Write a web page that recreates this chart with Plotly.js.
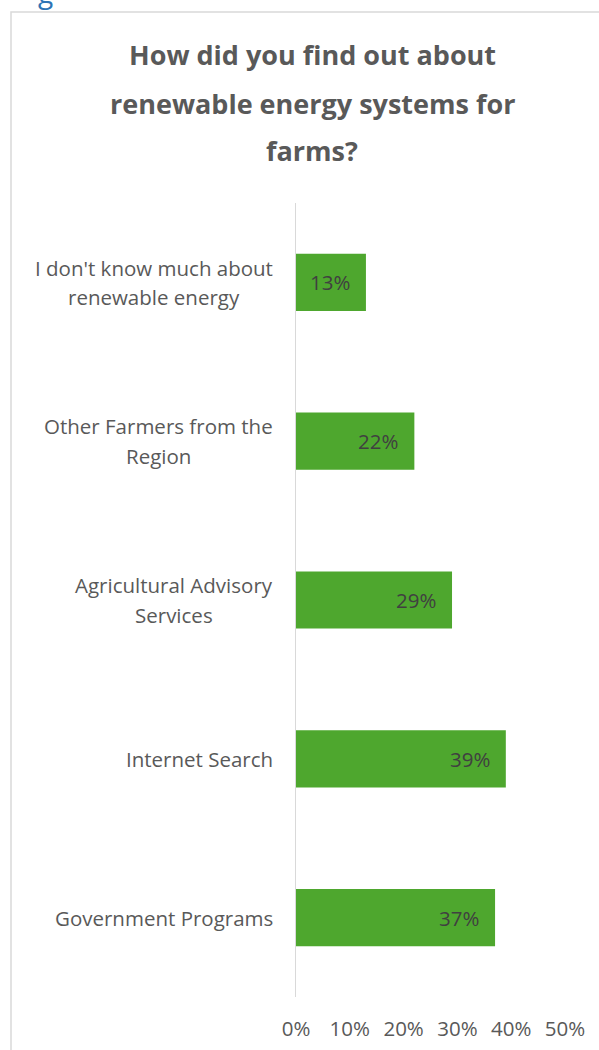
<!DOCTYPE html>
<html>
<head>
<meta charset="utf-8">
<script src="https://cdn.plot.ly/plotly-3.0.1.min.js"></script>
<style>html,body{margin:0;padding:0;background:#fff;}#chart{width:599px;height:1050px;}</style>
</head>
<body>
<div id="chart"></div>
<script>
// Data (top to bottom as shown)
const categories = ["I don't know much about renewable energy", "Other Farmers from the Region", "Agricultural Advisory Services", "Internet Search", "Government Programs"];
const labelLines = [["I don't know much about", "renewable energy"], ["Other Farmers from the", "Region"], ["Agricultural Advisory", "Services"], ["Internet Search"], ["Government Programs"]];
const values = [0.13, 0.22, 0.29, 0.39, 0.37];
const valueLabels = ["13%", "22%", "29%", "39%", "37%"];
const tickVals = [0, 0.1, 0.2, 0.3, 0.4, 0.5];
const tickText = ["0%", "10%", "20%", "30%", "40%", "50%"];
const titleLines = ["How did you find out about", "renewable energy systems for", "farms?"];

const FONT = "Open Sans, Noto Sans, sans-serif";
const W = 599, H = 1050;
const M = {l: 296, r: 34, t: 203, b: 53};
const pw = W - M.l - M.r, ph = H - M.t - M.b;
const px2x = p => (p - M.l) / pw;
const px2y = p => (H - M.b - p) / ph;

const LABEL_SIZE = 20.5;
const canvas = document.createElement('canvas');
const ctx = canvas.getContext('2d');
ctx.font = LABEL_SIZE + "px 'Open Sans'";

const annotations = [];
// title lines
const titleY = [55, 103, 150];
titleLines.forEach((t, i) => {
  annotations.push({text: '<b>' + t + '</b>', xref: 'paper', yref: 'paper', x: px2x(312), y: px2y(titleY[i]),
    xanchor: 'center', yanchor: 'middle', showarrow: false, font: {family: FONT, size: 27, color: '#595959'}});
});
// category labels (centered lines, block right-aligned)
categories.forEach((c, i) => {
  const lines = labelLines[i];
  const maxW = Math.max(...lines.map(l => ctx.measureText(l).width));
  const n = lines.length;
  lines.forEach((l, j) => {
    annotations.push({text: l, xref: 'x', yref: 'y', x: 0, y: c, xanchor: 'center', yanchor: 'middle',
      xshift: -(23 + maxW / 2), yshift: ((n - 1) / 2 - j) * 29.5, showarrow: false,
      font: {family: FONT, size: LABEL_SIZE, color: '#595959'}});
  });
});
// value labels inside end
categories.forEach((c, i) => {
  annotations.push({text: valueLabels[i], xref: 'x', yref: 'y', x: values[i], y: c, xanchor: 'right', yanchor: 'middle',
    xshift: -14, showarrow: false, font: {family: FONT, size: LABEL_SIZE, color: '#404040'}});
});
// cut-off heading glyph at the top (partially outside the page, as in the reference)
annotations.push({text: 'g', xref: 'paper', yref: 'paper', x: px2x(45), y: px2y(-8), xanchor: 'center', yanchor: 'middle',
  showarrow: false, font: {family: FONT, size: 28, color: '#2E74B5'}});

const data = [{
  type: 'bar', orientation: 'h', y: categories, x: values,
  marker: {color: '#4EA72E'}, hoverinfo: 'none'
}];

const layout = {
  width: W, height: H, margin: M, paper_bgcolor: '#fff', plot_bgcolor: '#fff',
  showlegend: false, bargap: 0.64,
  xaxis: {range: [0, 0.5], tickvals: tickVals, ticktext: tickText, showgrid: false, zeroline: false, showline: false,
    ticks: '', ticklabelstandoff: 17, tickfont: {family: FONT, size: LABEL_SIZE, color: '#595959'}, fixedrange: true},
  yaxis: {autorange: 'reversed', showticklabels: false, ticks: '', showgrid: false, zeroline: false,
    showline: true, linecolor: '#D9D9D9', linewidth: 1.5, fixedrange: true},
  annotations: annotations,
  shapes: [{type: 'rect', xref: 'paper', yref: 'paper', x0: px2x(11), x1: 2, y0: -1, y1: px2y(12),
    line: {color: '#D9D9D9', width: 1.5}, fillcolor: 'rgba(0,0,0,0)', layer: 'below'}]
};

Plotly.newPlot('chart', data, layout, {displayModeBar: false, staticPlot: true});
</script>
</body>
</html>
